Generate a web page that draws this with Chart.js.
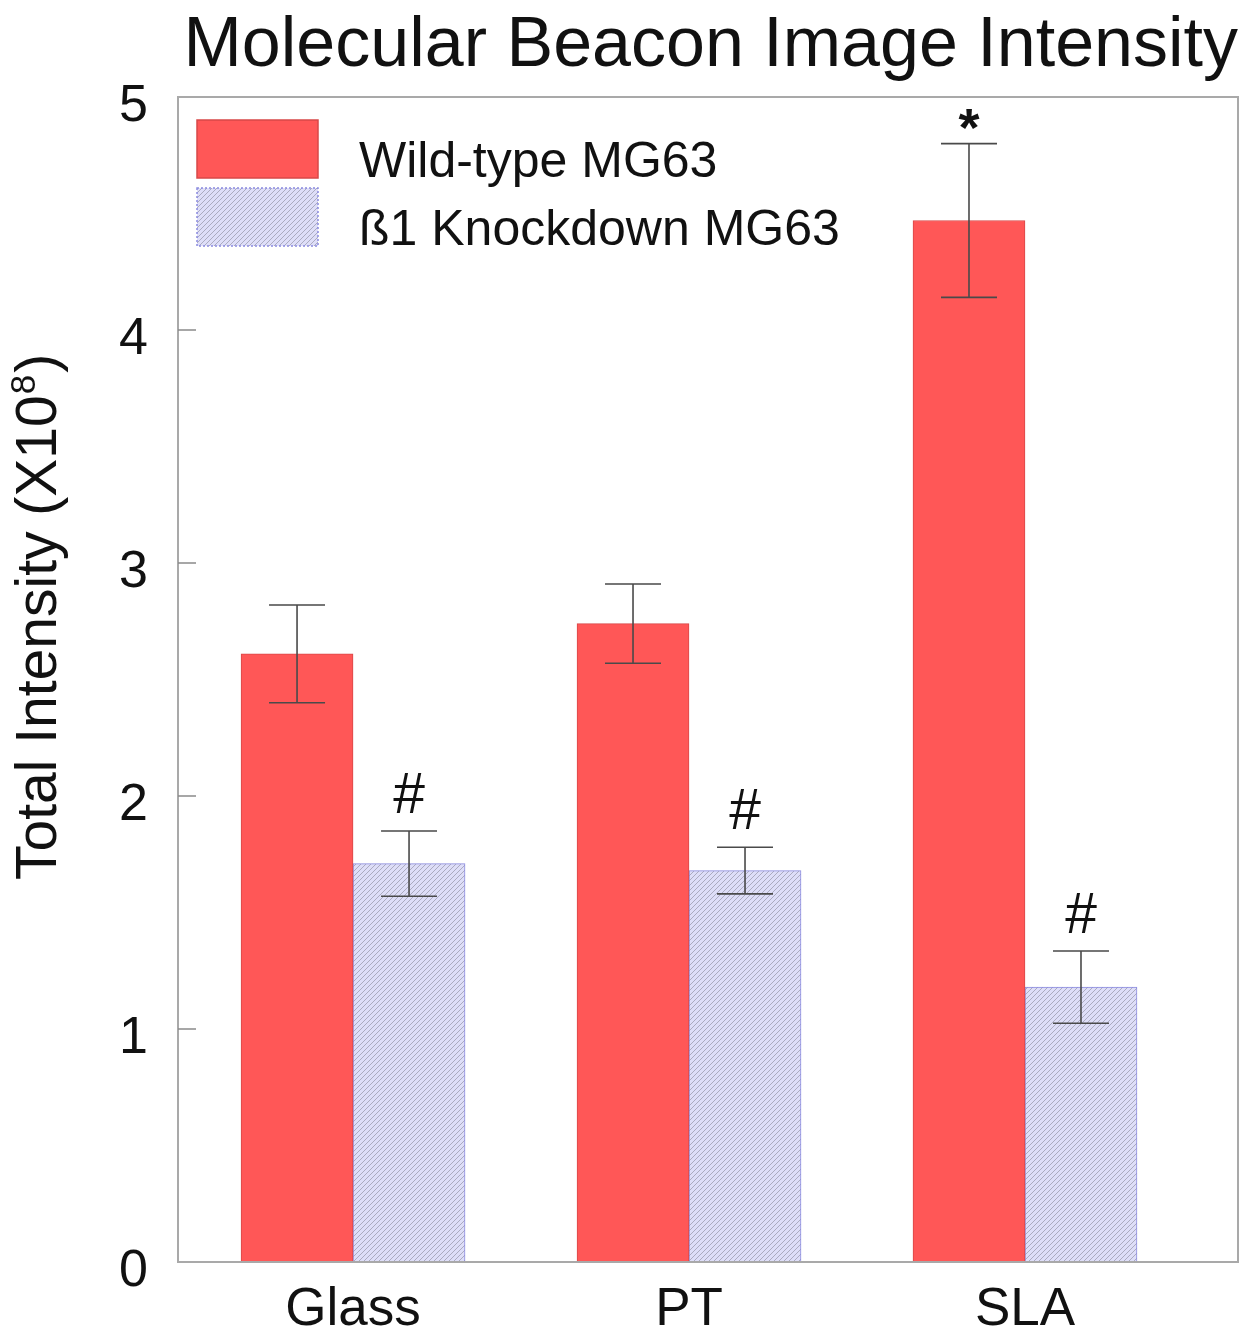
<!DOCTYPE html>
<html><head><meta charset="utf-8">
<script src="https://cdn.jsdelivr.net/npm/chart.js@4.4.1/dist/chart.umd.min.js"></script>
<style>html,body{margin:0;padding:0;background:#fff}#wrap{width:1248px;height:1330px}</style>
</head><body><div id="wrap"><canvas id="c" width="1248" height="1330"></canvas></div>
<script>
const categories = ['Glass', 'PT', 'SLA'];
const seriesNames = ['Wild-type MG63', 'ß1 Knockdown MG63'];
const wildType = [2.61, 2.74, 4.47];
const knockdown = [1.71, 1.68, 1.18];
const wildTypeErr = [0.21, 0.17, 0.33];
const knockdownErr = [0.14, 0.10, 0.155];
const wildTypeMarks = ['', '', '*'];
const knockdownMarks = ['#', '#', '#'];
const yTicks = [0, 1, 2, 3, 4, 5];
const titleText = 'Molecular Beacon Image Intensity';
const yTitleMain = 'Total Intensity (X10';
const yTitleSup = '8';
const yTitleEnd = ')';

const FONT = '"Liberation Sans", Arial, Helvetica, sans-serif';

function hatchPattern() {
  const s = 5;
  const c = document.createElement('canvas');
  c.width = s; c.height = s;
  const x = c.getContext('2d');
  x.fillStyle = '#dedef8';
  x.fillRect(0, 0, s, s);
  x.strokeStyle = 'rgba(150,150,168,0.7)';
  x.lineWidth = 1;
  x.beginPath();
  x.moveTo(-1, s + 1); x.lineTo(s + 1, -1);
  x.moveTo(-1, 1); x.lineTo(1, -1);
  x.moveTo(s - 1, s + 1); x.lineTo(s + 1, s - 1);
  x.stroke();
  return x.createPattern(c, 'repeat');
}

const errs = [wildTypeErr, knockdownErr];
const marks = [wildTypeMarks, knockdownMarks];

const decorPlugin = {
  id: 'decor',
  afterDatasetsDraw(chart) {
    const ctx = chart.ctx;
    const a = chart.chartArea;
    const ys = chart.scales.y;
    ctx.save();
    // error bars
    ctx.strokeStyle = '#4a4a4a';
    ctx.lineWidth = 1.6;
    chart.data.datasets.forEach((ds, di) => {
      const meta = chart.getDatasetMeta(di);
      meta.data.forEach((el, i) => {
        const v = ds.data[i].y;
        const e = errs[di][i];
        const yt = ys.getPixelForValue(v + e);
        const yb = ys.getPixelForValue(v - e);
        const x = el.x;
        ctx.beginPath();
        ctx.moveTo(x, yt); ctx.lineTo(x, yb);
        ctx.moveTo(x - 28, yt); ctx.lineTo(x + 28, yt);
        ctx.moveTo(x - 28, yb); ctx.lineTo(x + 28, yb);
        ctx.stroke();
        const m = marks[di][i];
        if (m) {
          ctx.fillStyle = '#111';
          ctx.textAlign = 'center';
          ctx.textBaseline = 'alphabetic';
          if (m === '*') {
            ctx.font = 'bold 54px ' + FONT;
            ctx.fillText(m, x, yt + 2);
          } else {
            ctx.font = '57px ' + FONT;
            ctx.fillText(m, x, yt - 18);
          }
        }
      });
    });
    // frame
    ctx.strokeStyle = '#a9a9a9';
    ctx.lineWidth = 2;
    ctx.strokeRect(a.left, a.top, a.right - a.left, a.bottom - a.top);
    // inward ticks
    ctx.strokeStyle = '#8a8a8a';
    ctx.lineWidth = 1.5;
    yTicks.forEach(v => {
      if (v === yTicks[0] || v === yTicks[yTicks.length - 1]) return;
      const y = ys.getPixelForValue(v);
      ctx.beginPath(); ctx.moveTo(a.left, y); ctx.lineTo(a.left + 18, y); ctx.stroke();
    });
    // legend
    const lx = a.left + 19, lw = 121, lh = 58;
    const rows = [120, 188];
    chart.data.datasets.forEach((ds, di) => {
      const y = rows[di];
      ctx.fillStyle = ds.backgroundColor;
      ctx.fillRect(lx, y, lw, lh);
      ctx.strokeStyle = ds.borderColor;
      ctx.lineWidth = 1.5;
      if (di === 1) ctx.setLineDash([2, 2]);
      ctx.strokeRect(lx, y, lw, lh);
      ctx.setLineDash([]);
      ctx.fillStyle = '#111';
      ctx.font = '50px ' + FONT;
      ctx.textAlign = 'left';
      ctx.textBaseline = 'alphabetic';
      ctx.fillText(ds.label, 359, y + 57);
    });
    // y axis title (rotated, with superscript)
    ctx.translate(56, 880);
    ctx.rotate(-Math.PI / 2);
    ctx.fillStyle = '#111';
    ctx.textAlign = 'left';
    ctx.textBaseline = 'alphabetic';
    ctx.font = '57px ' + FONT;
    ctx.fillText(yTitleMain, 0, 0);
    let w = ctx.measureText(yTitleMain).width;
    ctx.font = '35px ' + FONT;
    ctx.fillText(yTitleSup, w + 1, -21);
    w += ctx.measureText(yTitleSup).width + 3;
    ctx.font = '57px ' + FONT;
    ctx.fillText(yTitleEnd, w, 0);
    ctx.restore();
  }
};

const chart = new Chart(document.getElementById('c'), {
  type: 'bar',
  data: {
    datasets: [
      {
        label: seriesNames[0],
        data: wildType.map((v, i) => ({ x: i + 1, y: v })),
        backgroundColor: '#ff5757',
        borderColor: '#d84848',
        borderWidth: 1
      },
      {
        label: seriesNames[1],
        data: knockdown.map((v, i) => ({ x: i + 1, y: v })),
        backgroundColor: hatchPattern(),
        borderColor: '#8c8ce0',
        borderWidth: 1
      }
    ]
  },
  options: {
    responsive: false,
    devicePixelRatio: 1,
    animation: false,
    layout: { padding: { left: 0, right: 10, top: 0, bottom: 0 } },
    datasets: { bar: { barThickness: 112, grouped: true } },
    plugins: {
      legend: { display: false },
      tooltip: { enabled: false },
      title: {
        display: true,
        text: titleText,
        align: 'end',
        color: '#111',
        font: { family: FONT, size: 70, weight: 'normal', lineHeight: 1.2 },
        padding: { top: 5, bottom: 8 }
      }
    },
    scales: {
      x: {
        type: 'linear',
        offset: false,
        min: 0.479,
        max: 3.634,
        grid: { display: false, drawTicks: false, offset: false },
        border: { display: false },
        afterBuildTicks: s => { s.ticks = categories.map((c, i) => ({ value: i + 1 })); },
        afterFit: s => { s.height = 68; },
        ticks: {
          autoSkip: false,
          maxRotation: 0,
          padding: 17,
          color: '#111',
          font: { family: FONT, size: 53 },
          callback: v => categories[Math.round(v) - 1] || ''
        }
      },
      y: {
        min: 0,
        max: 5,
        grid: { display: false, drawTicks: false },
        border: { display: false },
        afterBuildTicks: s => { s.ticks = yTicks.map(v => ({ value: v })); },
        afterFit: s => { s.width = 178; },
        ticks: {
          padding: 30,
          labelOffset: 10,
          color: '#111',
          font: { family: FONT, size: 52 }
        }
      }
    }
  },
  plugins: [decorPlugin]
});
</script>
</body></html>
